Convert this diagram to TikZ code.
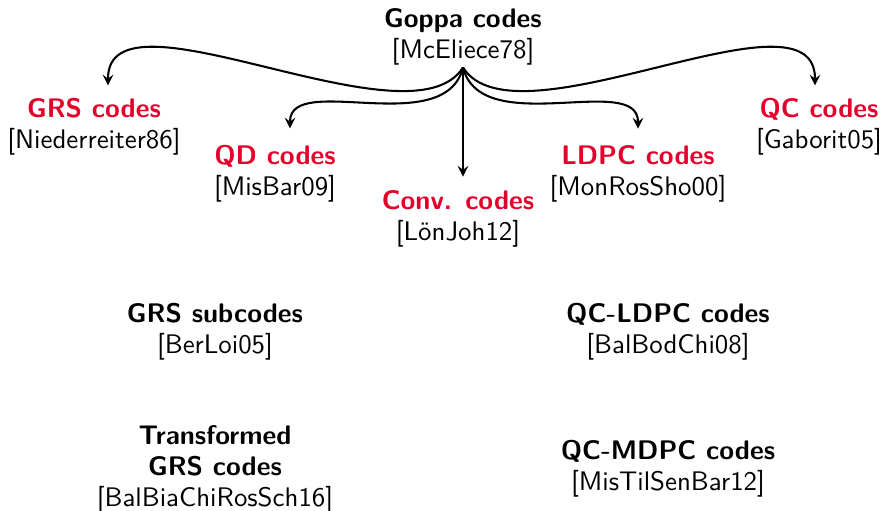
\documentclass[tikz,border=0pt]{standalone}
\usetikzlibrary{arrows,calc}
\definecolor{codered}{RGB}{228,0,43}
\tikzset{
  box/.style={align=center,inner sep=1pt,font=\sffamily\fontsize{10.4pt}{12pt}\selectfont},
  conn/.style={thick,-stealth},
}
\newcommand{\hl}[1]{\textcolor{codered}{\textbf{#1}}}
\begin{document}
\begin{tikzpicture}[x=0.387pt,y=-0.387pt]
\useasboundingbox (0,0) rectangle (883,511);
\node[box] (goppa) at (463,37) {\textbf{Goppa codes}\\{}[McEliece78]};
\node[box] (grs) at (94,127) {\hl{GRS codes}\\{}[Niederreiter86]};
\node[box] (qd) at (275,174) {\hl{QD codes}\\{}[MisBar09]};
\node[box] (conv) at (458,219) {\hl{Conv. codes}\\{}[LönJoh12]};
\node[box] (ldpc) at (638,174) {\hl{LDPC codes}\\{}[MonRosSho00]};
\node[box] (qc) at (819,127) {\hl{QC codes}\\{}[Gaborit05]};
\node[box] (grssub) at (215,332) {\textbf{GRS subcodes}\\{}[BerLoi05]};
\node[box] (tgrs) at (215,469) {\textbf{Transformed}\\\textbf{GRS codes}\\{}[BalBiaChiRosSch16]};
\node[box] (qcldpc) at (668,332) {\textbf{QC-LDPC codes}\\{}[BalBodChi08]};
\node[box] (qcmdpc) at (668,469) {\textbf{QC-MDPC codes}\\{}[MisTilSenBar12]};
\coordinate (s) at ($(goppa.south)+(0,-1)$);
\draw[conn] (s) to[out=-122,in=90,out distance=38pt,in distance=41pt] ($(grs.north)+(14,-10)$);
\draw[conn] (s) to[out=-104,in=90,out distance=29pt,in distance=22pt] ($(qd.north)+(15,-14)$);
\draw[conn] (s) -- ($(conv.north)+(5,-11)$);
\draw[conn] (s) to[out=-76,in=90,out distance=29pt,in distance=22pt] ($(ldpc.north)+(0,-14)$);
\draw[conn] (s) to[out=-58,in=90,out distance=38pt,in distance=41pt] ($(qc.north)+(-4,-10)$);
\end{tikzpicture}
\end{document}
